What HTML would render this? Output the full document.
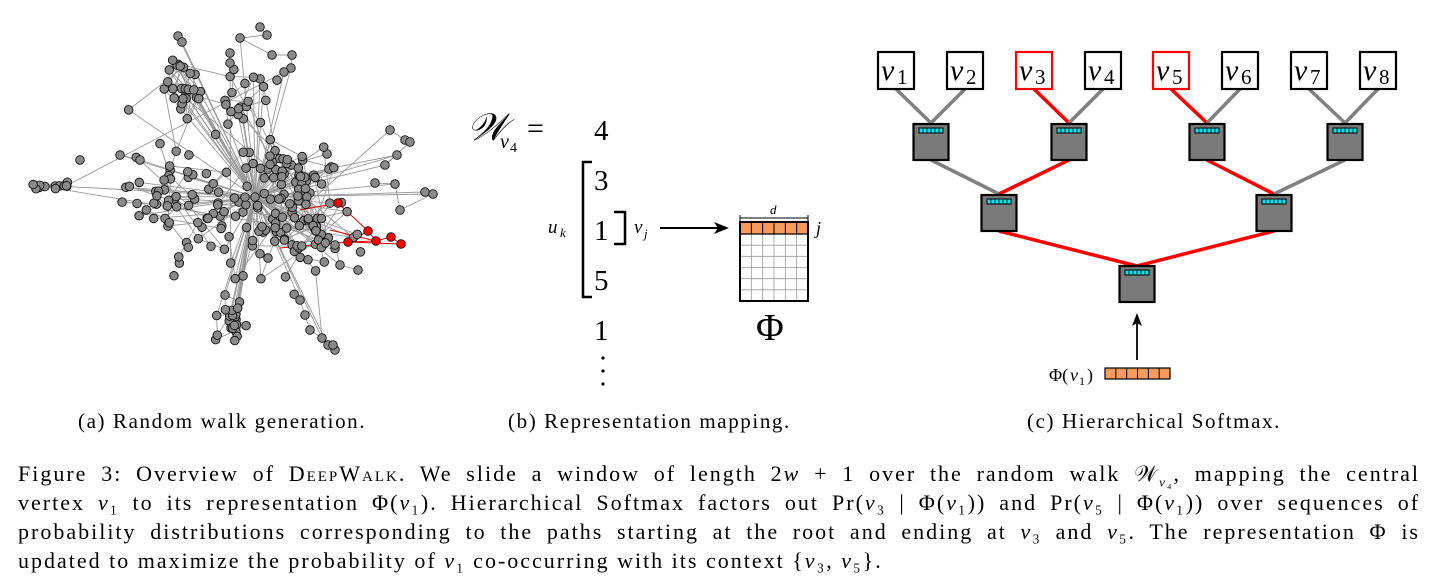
<!DOCTYPE html>
<html><head><meta charset="utf-8">
<style>
html,body{margin:0;padding:0;background:#fff;}
body{width:1433px;height:584px;position:relative;overflow:hidden;font-family:"Liberation Serif",serif;color:#000;}
.t{position:absolute;white-space:nowrap;font-size:21px;letter-spacing:1.6px;}
.cap{position:absolute;left:18px;width:1402px;font-size:22px;letter-spacing:2px;line-height:29px;text-align:justify;text-align-last:justify;white-space:nowrap;}
.cap.last{text-align-last:left;}
.sc{font-variant:small-caps;}
i{font-style:italic;}
</style></head><body>
<svg id="g" width="1433" height="584" style="position:absolute;left:0;top:0">
<g id="graph"></g>
<g font-family="Liberation Serif, serif">
<text x="467" y="140" font-size="38" font-style="italic">𝒲</text>
<text x="500" y="148" font-size="20" font-style="italic">v</text><text x="510" y="152" font-size="14">4</text>
<text x="527" y="138" font-size="30">=</text>
<text x="594" y="140" font-size="29">4</text>
<text x="594" y="190" font-size="29">3</text>
<text x="594" y="240" font-size="29">1</text>
<text x="594" y="290" font-size="29">5</text>
<text x="594" y="340" font-size="29">1</text>
<circle cx="603" cy="358" r="1.6"/><circle cx="603" cy="371" r="1.6"/><circle cx="603" cy="384" r="1.6"/>
<path d="M592 162 H583 V297 H592" fill="none" stroke="#000" stroke-width="2.5"/>
<path d="M614 212 H625 V244 H614" fill="none" stroke="#000" stroke-width="2.5"/>
<text x="548" y="233" font-size="19" font-style="italic">u</text><text x="560" y="237" font-size="13" font-style="italic">k</text>
<text x="634" y="233" font-size="19" font-style="italic">v</text><text x="644" y="238" font-size="13" font-style="italic">j</text>
<line x1="660" y1="228" x2="718" y2="228" stroke="#000" stroke-width="2"/>
<path d="M729 228 L714 222 L718 228 L714 234 Z"/>
<text x="770" y="214" font-size="13" font-style="italic">d</text>
<line x1="740" y1="218" x2="808" y2="218" stroke="#000" stroke-width="1"/>
<line x1="740" y1="215" x2="740" y2="221" stroke="#000"/><line x1="808" y1="215" x2="808" y2="221" stroke="#000"/>
<text x="816" y="234" font-size="18" font-style="italic">j</text>
<g id="mat"></g>
<text x="756" y="340" font-size="38">Φ</text>
</g>
<g id="tree" font-family="Liberation Serif, serif"></g>
</svg>

<div class="t" style="left:78px;top:409px">(a) Random walk generation.</div>
<div class="t" style="left:508px;top:409px">(b) Representation mapping.</div>
<div class="t" style="left:1027px;top:409px">(c) Hierarchical Softmax.</div>

<div class="cap" style="top:459px">Figure 3: Overview of <span class="sc">DeepWalk</span>. We slide a window of length 2<i>w</i> + 1 over the random walk 𝒲<sub style="font-size:13px"><i>v</i>₄</sub>, mapping the central</div>
<div class="cap" style="top:488px">vertex <i>v</i>₁ to its representation Φ(<i>v</i>₁). Hierarchical Softmax factors out Pr(<i>v</i>₃ | Φ(<i>v</i>₁)) and Pr(<i>v</i>₅ | Φ(<i>v</i>₁)) over sequences of</div>
<div class="cap" style="top:517px">probability distributions corresponding to the paths starting at the root and ending at <i>v</i>₃ and <i>v</i>₅. The representation Φ is</div>
<div class="cap last" style="top:546px">updated to maximize the probability of <i>v</i>₁ co-occurring with its context {<i>v</i>₃, <i>v</i>₅}.</div>

<script>
var NS="http://www.w3.org/2000/svg";
function el(p,n,a){var e=document.createElementNS(NS,n);for(var k in a)e.setAttribute(k,a[k]);p.appendChild(e);return e;}
var seed=7;function r(){seed=(seed*16807)%2147483647;return (seed-1)/2147483646;}
function gs(){return (r()+r()+r()-1.5)/0.75;}
var G=document.getElementById('graph');
var nodes=[];var hub=[255,197];
function cl(cx,cy,sx,sy,n){for(var i=0;i<n;i++)nodes.push([cx+gs()*sx,cy+gs()*sy]);}
cl(245,205,70,55,120);
cl(185,85,14,22,24);
cl(240,100,24,22,20);
cl(230,320,12,16,22);
cl(300,165,28,25,25);
cl(310,230,30,25,30);
cl(165,205,35,30,22);
cl(50,185,18,5,12);
[[178,36],[182,42],[260,27],[267,35],[240,38],[272,55],[292,55],[291,68],[284,72],[230,53],[230,63],[390,130],[405,140],[410,142],[385,165],[397,155],[425,192],[433,194],[400,210],[395,184],[375,183],[335,245],[340,265],[358,270],[300,300],[305,315],[310,330],[322,338],[328,345],[335,350],[333,345],[120,155],[140,160],[80,160]].forEach(function(p){nodes.push(p);});
var red=[[338,203],[368,231],[348,242],[376,241],[391,237],[401,244]];
var E=el(G,'g',{stroke:'#999','stroke-width':'0.9'});
for(var i=0;i<nodes.length;i++){
 var p=nodes[i];
 if(r()<0.4) el(E,'line',{x1:hub[0],y1:hub[1],x2:p[0],y2:p[1]});
 var j=Math.floor(r()*nodes.length),q=nodes[j];
 if(Math.hypot(p[0]-q[0],p[1]-q[1])<70||r()<0.06) el(E,'line',{x1:p[0],y1:p[1],x2:q[0],y2:q[1]});
 var k=(i+1)%nodes.length;q=nodes[k];
 if(Math.hypot(p[0]-q[0],p[1]-q[1])<40) el(E,'line',{x1:p[0],y1:p[1],x2:q[0],y2:q[1]});
}
var RE=el(G,'g',{stroke:'#e00','stroke-width':'1'});
[[0,1],[1,2],[1,3],[2,3],[3,4],[4,5],[2,5],[0,[300,210]],[2,[280,248]],[3,[330,230]]].forEach(function(e){
 var a=red[e[0]],b=typeof e[1]=='number'?red[e[1]]:e[1];el(RE,'line',{x1:a[0],y1:a[1],x2:b[0],y2:b[1]});});
nodes.forEach(function(p){el(G,'circle',{cx:p[0],cy:p[1],r:4.3,fill:'#8a8a8a',stroke:'#111','stroke-width':'0.9'});});
el(G,'circle',{cx:hub[0],cy:hub[1],r:4.3,fill:'#8a8a8a',stroke:'#111','stroke-width':'0.9'});
red.forEach(function(p){el(G,'circle',{cx:p[0],cy:p[1],r:4.3,fill:'#f00',stroke:'#111','stroke-width':'0.9'});});
var M=document.getElementById('mat');
el(M,'rect',{x:740,y:222,width:68,height:12,fill:'#f79a5a'});
for(var c=1;c<6;c++){var x=740+c*68/6;el(M,'line',{x1:x,y1:222,x2:x,y2:234,stroke:'#000','stroke-width':'1'});el(M,'line',{x1:x,y1:234,x2:x,y2:301,stroke:'#999','stroke-width':'0.8'});}
for(var rr=1;rr<6;rr++){var y=234+rr*67/6;el(M,'line',{x1:740,y1:y,x2:808,y2:y,stroke:'#999','stroke-width':'0.8'});}
el(M,'line',{x1:740,y1:234,x2:808,y2:234,stroke:'#000','stroke-width':'1.2'});
el(M,'rect',{x:740,y:222,width:68,height:79,fill:'none',stroke:'#000','stroke-width':'2'});
var T=document.getElementById('tree');
var leaves=[878,947,1016,1085,1153,1222,1291,1360];
var l1=[931,1069,1207,1345],l2=[999,1274],root=1137;
function ln(x1,y1,x2,y2,red){el(T,'line',{x1:x1,y1:y1,x2:x2,y2:y2,stroke:red?'#f00':'#808080','stroke-width':'3.5'});}
for(var i=0;i<8;i++){var lc=leaves[i]+18,pc=l1[i>>1];ln(lc,89,pc,123,i==2||i==4);}
for(var i=0;i<4;i++){ln(l1[i],160,l2[i>>1],194,i==1||i==2);}
ln(999,231,root,266,true);ln(1274,231,root,266,true);
function inner(cx,top){el(T,'rect',{x:cx-17.5,y:top,width:35,height:36,fill:'#7a7a7a',stroke:'#000','stroke-width':'2.2'});
 el(T,'rect',{x:cx-12,y:top+4,width:24,height:5,fill:'#00e5ee',stroke:'#000','stroke-width':'1'});
 for(var k=1;k<6;k++)el(T,'line',{x1:cx-12+k*4,y1:top+4,x2:cx-12+k*4,y2:top+9,stroke:'#000','stroke-width':'0.8'});}
l1.forEach(function(c){inner(c,124);});l2.forEach(function(c){inner(c,195);});inner(root,266);
for(var i=0;i<8;i++){var x=leaves[i];var isr=i==2||i==4;
 el(T,'rect',{x:x,y:52,width:36,height:37,fill:'#fff',stroke:isr?'#f00':'#000','stroke-width':'2.2'});
 var t=el(T,'text',{x:x+3,y:80,'font-size':'30','font-style':'italic'});t.textContent='v';
 var s=el(T,'text',{x:x+19,y:84,'font-size':'21'});s.textContent=String(i+1);}
el(T,'line',{x1:root,y1:360,x2:root,y2:320,stroke:'#000','stroke-width':'1.8'});
el(T,'path',{d:'M1137 313 L1132 326 L1137 323 L1142 326 Z',fill:'#000'});
var pt=el(T,'text',{x:1049,y:381,'font-size':'18'});pt.textContent='Φ(';
var pv=el(T,'text',{x:1070,y:381,'font-size':'18','font-style':'italic'});pv.textContent='v';
var p1=el(T,'text',{x:1079,y:385,'font-size':'12'});p1.textContent='1';
var p2=el(T,'text',{x:1087,y:381,'font-size':'18'});p2.textContent=')';
el(T,'rect',{x:1105,y:368,width:65,height:11,fill:'#f79a5a',stroke:'#000','stroke-width':'1.2'});
for(var k=1;k<6;k++)el(T,'line',{x1:1105+k*65/6,y1:368,x2:1105+k*65/6,y2:379,stroke:'#000','stroke-width':'1'});
</script>
</body></html>
